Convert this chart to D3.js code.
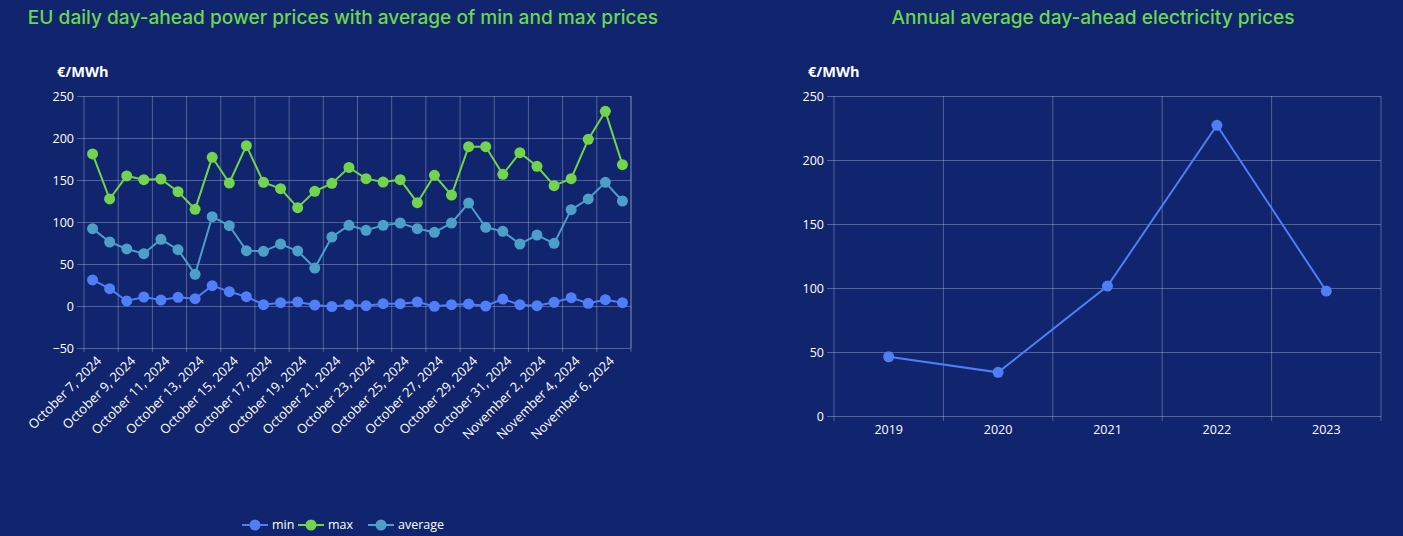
<!DOCTYPE html>
<html><head><meta charset="utf-8">
<script src="https://cdn.jsdelivr.net/npm/d3@7"></script>
<style>
html,body{margin:0;padding:0;background:#10256e;}
svg{display:block;}
</style></head>
<body><svg id="c" width="1403" height="536"></svg>
<script>
const dates = ["October 7, 2024","October 8, 2024","October 9, 2024","October 10, 2024","October 11, 2024","October 12, 2024","October 13, 2024","October 14, 2024","October 15, 2024","October 16, 2024","October 17, 2024","October 18, 2024","October 19, 2024","October 20, 2024","October 21, 2024","October 22, 2024","October 23, 2024","October 24, 2024","October 25, 2024","October 26, 2024","October 27, 2024","October 28, 2024","October 29, 2024","October 30, 2024","October 31, 2024","November 1, 2024","November 2, 2024","November 3, 2024","November 4, 2024","November 5, 2024","November 6, 2024","November 7, 2024"];
const minVals = [31,20.6,6,10.7,7.1,10.3,8.7,24.2,17.1,11.1,1.6,4,4.8,1.2,-0.6,1.6,0.4,2.8,2.8,4.8,-0.4,1.6,2.4,0,8.3,1.6,0.4,4.4,9.9,3.2,7.5,4];
const maxVals = [181,127.4,154.8,150.4,151.2,136.1,115.1,177,146.4,190.9,147.2,139.7,117.1,136.5,146,165,151.6,147.6,150.4,123,155.6,132,189.7,189.7,156.7,182.5,166.3,143.3,151.6,198.4,231.7,168.3];
const avgVals = [92.1,76.2,67.9,62.3,79.4,67.1,37.7,106.3,95.6,65.9,65.1,73.8,65.5,45.2,82.1,96,90.1,96,98.8,92.1,87.7,98.8,122.6,93.7,88.9,73.8,84.5,74.6,114.7,127.4,147.2,125];
const leftTicks = [-50,0,50,100,150,200,250];
const years = ["2019","2020","2021","2022","2023"];
const annualVals = [46.3,34.1,101.5,227.1,97.6];
const rightTicks = [0,50,100,150,200,250];

const GREEN = "#72d34c", TITLE = "#6dd64f", BLUE = "#4f7ef6", TEAL = "#4b9fc8";
const GRID = "rgba(255,255,255,0.28)";
const tickFont = "'Open Sans', 'Noto Sans', sans-serif";
const svg = d3.select("#c");

// Titles
svg.append("text").attr("x", 343).attr("y", 24).attr("text-anchor","middle")
  .attr("fill", TITLE).attr("font-family","Inter, sans-serif").attr("font-weight",500).attr("font-size", 19.1)
  .text("EU daily day-ahead power prices with average of min and max prices");
svg.append("text").attr("x", 1093).attr("y", 24).attr("text-anchor","middle")
  .attr("fill", TITLE).attr("font-family","Inter, sans-serif").attr("font-weight",500).attr("font-size", 19.1)
  .text("Annual average day-ahead electricity prices");

// ---- Left chart
const L = {x0:84, x1:631, y0:96, y1:348};
const xL = d3.scaleBand().domain(dates).range([L.x0, L.x1]);
const yL = d3.scaleLinear().domain([-50,250]).range([L.y1, L.y0]);
const gL = svg.append("g");

svg.append("text").attr("x",57).attr("y",77).attr("fill","#fff").attr("font-family",tickFont)
  .attr("font-weight","bold").attr("font-size",14.5).text("€/MWh");

const yAxL = gL.append("g").attr("transform",`translate(${L.x0},0)`)
  .call(d3.axisLeft(yL).tickValues(leftTicks).tickSize(7).tickPadding(3).tickFormat(d3.format("d")));
yAxL.select(".domain").remove();
yAxL.selectAll("line").attr("stroke",GRID).attr("x2", L.x1 - L.x0).attr("x1",-7);
yAxL.selectAll("text").attr("fill","#fff").attr("font-family",tickFont).attr("font-size",12.5);

const vb = d3.range(0, dates.length+1, 2).map(i => L.x0 + i*xL.step());
gL.append("g").selectAll("line").data(vb).join("line")
  .attr("x1",d=>d).attr("x2",d=>d).attr("y1",L.y0).attr("y2",L.y1+4).attr("stroke",GRID);
gL.append("line").attr("x1",L.x1).attr("x2",L.x1).attr("y1",L.y0).attr("y2",L.y1).attr("stroke",GRID);

const labelIdx = d3.range(0, dates.length, 2);
gL.append("g").selectAll("text").data(labelIdx).join("text")
  .attr("transform", i => `translate(${xL(dates[i]) + xL.bandwidth()/2 + 3},${L.y1+7}) rotate(-45)`)
  .attr("text-anchor","end").attr("dy","0.72em")
  .attr("fill","#fff").attr("font-family",tickFont).attr("font-size",13)
  .text(i => dates[i]);

const cx = d => xL(d) + xL.bandwidth()/2;
const seriesL = [
  {name:"min", vals:minVals, color:BLUE},
  {name:"max", vals:maxVals, color:GREEN},
  {name:"average", vals:avgVals, color:TEAL}
];
const lineL = d3.line().x((v,i)=>cx(dates[i])).y(v=>yL(v));
seriesL.forEach(s => {
  gL.append("path").datum(s.vals).attr("d", lineL).attr("fill","none")
    .attr("stroke", s.color).attr("stroke-width",2);
  gL.append("g").selectAll("circle").data(s.vals).join("circle")
    .attr("cx",(v,i)=>cx(dates[i])).attr("cy",v=>yL(v)).attr("r",5.5).attr("fill",s.color);
});

// legend
const legX = [242, 298, 368];
const lg = svg.append("g");
seriesL.forEach((s,k) => {
  const x = legX[k], y = 525;
  lg.append("line").attr("x1",x).attr("x2",x+26).attr("y1",y).attr("y2",y).attr("stroke",s.color).attr("stroke-width",2);
  lg.append("circle").attr("cx",x+13).attr("cy",y).attr("r",5.5).attr("fill",s.color);
  lg.append("text").attr("x",x+30).attr("y",y).attr("dy","0.35em").attr("fill","#fff")
    .attr("font-family",tickFont).attr("font-size",12.5).text(s.name);
});

// ---- Right chart
const R = {x0:834, x1:1381, y0:96, y1:416};
const xR = d3.scaleBand().domain(years).range([R.x0, R.x1]);
const yR = d3.scaleLinear().domain([0,250]).range([R.y1, R.y0]);
const gR = svg.append("g");
svg.append("text").attr("x",808).attr("y",77).attr("fill","#fff").attr("font-family",tickFont)
  .attr("font-weight","bold").attr("font-size",14.5).text("€/MWh");

const yAxR = gR.append("g").attr("transform",`translate(${R.x0},0)`)
  .call(d3.axisLeft(yR).tickValues(rightTicks).tickSize(7).tickPadding(3).tickFormat(d3.format("d")));
yAxR.select(".domain").remove();
yAxR.selectAll("line").attr("stroke",GRID).attr("x2", R.x1 - R.x0).attr("x1",-7);
yAxR.selectAll("text").attr("fill","#fff").attr("font-family",tickFont).attr("font-size",12.5);

const vbR = d3.range(0, years.length+1).map(i => R.x0 + i*xR.step());
gR.append("g").selectAll("line").data(vbR).join("line")
  .attr("x1",d=>d).attr("x2",d=>d).attr("y1",R.y0).attr("y2",R.y1+5).attr("stroke",GRID);

gR.append("g").selectAll("text").data(years).join("text")
  .attr("x", d=>xR(d)+xR.bandwidth()/2).attr("y", R.y1+18).attr("text-anchor","middle")
  .attr("fill","#fff").attr("font-family",tickFont).attr("font-size",12.5).text(d=>d);

const cxR = d => xR(d) + xR.bandwidth()/2;
gR.append("path").datum(annualVals)
  .attr("d", d3.line().x((v,i)=>cxR(years[i])).y(v=>yR(v)))
  .attr("fill","none").attr("stroke",BLUE).attr("stroke-width",2);
gR.append("g").selectAll("circle").data(annualVals).join("circle")
  .attr("cx",(v,i)=>cxR(years[i])).attr("cy",v=>yR(v)).attr("r",5.5).attr("fill",BLUE);
</script></body></html>
